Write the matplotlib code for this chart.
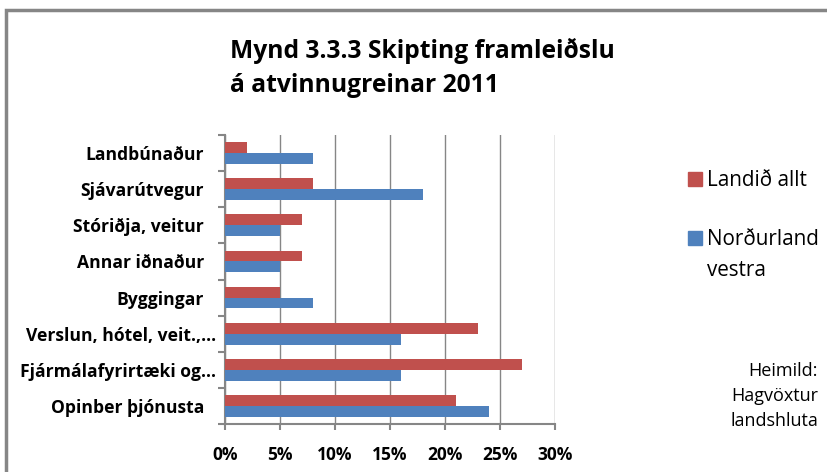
import matplotlib
matplotlib.use("Agg")
import matplotlib.pyplot as plt
import matplotlib.transforms as mtrans
from matplotlib.patches import Rectangle
import numpy as np

plt.rcParams['font.family'] = ['Open Sans', 'DejaVu Sans']

categories = ["Landbúnaður", "Sjávarútvegur", "Stóriðja, veitur", "Annar iðnaður",
              "Byggingar", "Verslun, hótel, veit.,…", "Fjármálafyrirtæki og…",
              "Opinber þjónusta"]
landid_allt = [2, 8, 7, 7, 5, 23, 27, 21]
nordurland_vestra = [8, 18, 5, 5, 8, 16, 16, 24]
series_names = ["Landið allt", "Norðurland\nvestra"]
x_ticks = [0, 5, 10, 15, 20, 25, 30]

RED = "#C0504D"
BLUE = "#4F81BD"
GRID = "#868686"

fig = plt.figure(figsize=(8.27, 4.72), dpi=100)
ax = fig.add_axes([225/827, 48/472, 330/827, 289/472])

y = np.arange(len(categories))
h = 0.3
ax.barh(y - h/2, landid_allt, height=h, color=RED, zorder=3)
ax.barh(y + h/2, nordurland_vestra, height=h, color=BLUE, zorder=3)

ax.set_xlim(0, 30)
ax.set_ylim(len(categories) - 0.5, -0.5)
ax.set_xticks(x_ticks)
ax.set_xticklabels([f"{t}%" for t in x_ticks], fontsize=12.5, fontweight="bold")
ax.set_yticks(y)
ax.set_yticklabels(categories, fontsize=12.6, fontweight="bold")
ax.set_yticks(np.arange(len(categories) + 1) - 0.5, minor=True)
ax.tick_params(axis="y", which="major", length=0, pad=15)
ax.tick_params(axis="y", which="minor", length=5, color=GRID, width=1.5)
ax.tick_params(axis="x", length=4, color=GRID, width=1.5, pad=12)
ax.grid(axis="x", color=GRID, linewidth=1, zorder=0)
for s in ["top", "right"]:
    ax.spines[s].set_visible(False)
for s in ["left", "bottom"]:
    ax.spines[s].set_color(GRID)
    ax.spines[s].set_linewidth(1.5)

# truncated labels sit closer to the axis
shift = mtrans.ScaledTranslation(12/100, 0, fig.dpi_scale_trans)
for lbl in ax.get_yticklabels():
    if lbl.get_text().endswith("…"):
        lbl.set_transform(lbl.get_transform() + shift)

fig.text(230/827, 1 - 68/472, "Mynd 3.3.3 Skipting framleiðslu\ná atvinnugreinar 2011",
         fontsize=17.7, fontweight="bold", ha="left", va="center", linespacing=1.5)

# legend
for color, name, ytop in [(RED, series_names[0], 172), (BLUE, series_names[1], 231)]:
    fig.patches.append(Rectangle((688/827, 1 - (ytop + 14)/472), 14/827, 14/472,
                                 transform=fig.transFigure, color=color))
    fig.text(707/827, 1 - (ytop - 2)/472, name, fontsize=14.9, ha="left", va="top",
             linespacing=1.6)

fig.text(818/827, 1 - 396/472, "Heimild:\nHagvöxtur\nlandshluta", fontsize=13,
         ha="right", va="center", linespacing=1.5)

fig.patches.append(Rectangle((6/827, -0.1), 1.2, 1 - 10/472 + 0.1,
                             transform=fig.transFigure, fill=False,
                             edgecolor=GRID, linewidth=2.5))

fig.savefig("out.png", dpi=100)
